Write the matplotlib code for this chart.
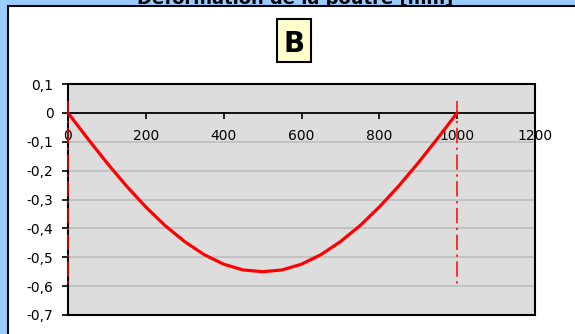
import matplotlib
matplotlib.use("Agg")
import matplotlib.pyplot as plt
from matplotlib.patches import Rectangle

# ---- data ----
x_pos = [0, 50, 100, 150, 200, 250, 300, 350, 400, 450, 500,
         550, 600, 650, 700, 750, 800, 850, 900, 950, 1000]
deflection = [0.0, -0.088, -0.173, -0.253, -0.326, -0.391, -0.446, -0.491,
              -0.524, -0.544, -0.550, -0.544, -0.524, -0.491, -0.446,
              -0.391, -0.326, -0.253, -0.173, -0.088, 0.0]
support_x = [0, 1000]
support_y = [0.04, -0.6]

x_ticks = [0, 200, 400, 600, 800, 1000, 1200]
x_tick_labels = ["0", "200", "400", "600", "800", "1000", "1200"]
y_ticks = [0.1, 0, -0.1, -0.2, -0.3, -0.4, -0.5, -0.6, -0.7]
y_tick_labels = ["0,1", "0", "-0,1", "-0,2", "-0,3", "-0,4", "-0,5", "-0,6", "-0,7"]

title_text = "Déformation de la poutre [mm]"
panel_label = "B"

W, H = 575, 334
fig = plt.figure(figsize=(W / 100, H / 100), dpi=100, facecolor="#99CCFF")

# title (mostly cut off at the top, as in the reference)
fig.text(295 / W, 1 - 4 / H, title_text, ha="center", va="baseline",
         fontsize=13, fontweight="bold", color="black", zorder=1)

# white chart panel
panel = Rectangle((8 / W, -0.1), 1.2, 1 - 6 / H + 0.1, transform=fig.transFigure,
                  facecolor="white", edgecolor="black", linewidth=1.5, zorder=2)
fig.patches.append(panel)

# "B" label box
bx0, bx1, by0, by1 = 277, 311, 19, 62
fig.patches.append(Rectangle((bx0 / W, 1 - by1 / H), (bx1 - bx0) / W, (by1 - by0) / H,
                             transform=fig.transFigure, facecolor="#FFFFCC",
                             edgecolor="black", linewidth=1.5, zorder=3))
fig.text((bx0 + bx1) / 2 / W, 1 - (by0 + by1) / 2 / H, panel_label, ha="center",
         va="center_baseline", fontsize=20, fontweight="bold", zorder=4)

# plot area
left, right, top, bottom = 68, 535, 84, 315
ax = fig.add_axes([left / W, 1 - bottom / H, (right - left) / W, (bottom - top) / H])
ax.set_zorder(5)
ax.set_facecolor("#DDDDDD")
ax.set_xlim(0, 1200)
ax.set_ylim(-0.7, 0.1)

for yv in y_ticks[2:-1]:
    ax.axhline(yv, color="#C0C0C0", linewidth=1.3, zorder=1)

ax.spines["bottom"].set_position(("data", 0))
ax.spines["bottom"].set_linewidth(1.3)
ax.spines["left"].set_linewidth(1.3)
ax.spines["top"].set_visible(False)
ax.spines["right"].set_visible(False)
ax.add_patch(Rectangle((0, 0), 1, 1, transform=ax.transAxes, fill=False,
                       edgecolor="black", linewidth=1.5, clip_on=False, zorder=6))

ax.set_xticks(x_ticks)
ax.set_xticklabels(x_tick_labels)
ax.set_yticks(y_ticks)
ax.set_yticklabels(y_tick_labels)
ax.tick_params(axis="x", direction="out", length=4, width=1.2, pad=7.5,
               labelsize=10, colors="black")
ax.tick_params(axis="y", direction="out", length=4.5, width=1.2, pad=6,
               labelsize=10, colors="black")
for lab in ax.get_xticklabels():
    lab.set_zorder(7)

ax.plot(x_pos, deflection, color="red", linewidth=2.3, zorder=4,
        solid_joinstyle="round", solid_capstyle="round")
for sx in support_x:
    ax.plot([sx, sx], support_y, color="#FF0000", linewidth=1.1,
            dashes=(10, 3, 1.5, 3), zorder=8, clip_on=False)

fig.savefig("out.png", dpi=100, facecolor=fig.get_facecolor())
